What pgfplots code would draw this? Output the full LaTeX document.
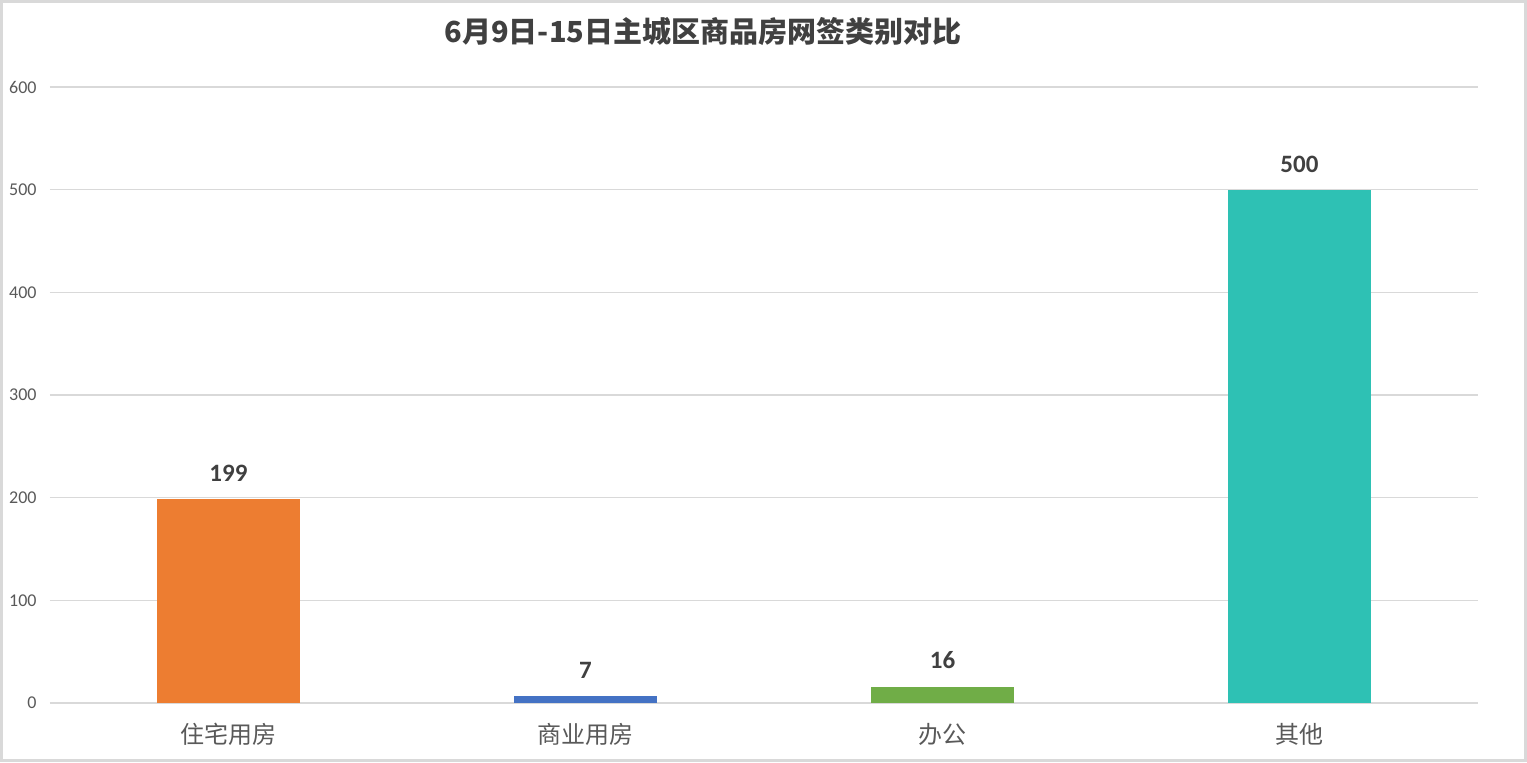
\documentclass[border=0pt]{standalone}
\usepackage{fontspec}
\setmainfont{Carlito}
\newfontfamily\cjk{Noto Sans CJK SC}
\usepackage{pgfplots}
\pgfplotsset{compat=1.18}
\definecolor{cOrange}{HTML}{ED7D31}
\definecolor{cBlue}{HTML}{4472C4}
\definecolor{cGreen}{HTML}{70AD47}
\definecolor{cTeal}{HTML}{2EC1B4}
\definecolor{gridgray}{HTML}{D9D9D9}
\definecolor{framegray}{HTML}{D9D9D9}
\definecolor{ticktext}{HTML}{595959}
\definecolor{valtext}{HTML}{404040}
\begin{document}
\begin{tikzpicture}
\useasboundingbox (0,0) rectangle (763.5pt,381pt);
\draw[framegray, line width=1.5pt] (0.75pt,0.75pt) rectangle (762.75pt,380.25pt);
\node[font=\cjk\bfseries\fontsize{14.5pt}{14.5pt}\selectfont, text=valtext] at (351.5pt,365pt) {6月9日-15日主城区商品房网签类别对比};
\begin{axis}[
  at={(25pt,29.5pt)}, anchor=south west,
  width=714pt, height=308pt, scale only axis,
  xmin=-0.5, xmax=3.5, ymin=0, ymax=600,
  ytick={0,100,...,600},
  xtick={0,1,2,3},
  xticklabels={住宅用房,商业用房,办公,其他},
  /pgf/number format/assume math mode=true,
  ymajorgrids, grid style={gridgray, line width=0.7pt},
  axis line style={draw=none},
  major tick length=0pt,
  tick style={draw=none},
  yticklabel style={font=\fontsize{9pt}{9pt}\selectfont, text=ticktext, inner sep=0pt, xshift=-6.5pt},
  xticklabel style={font=\cjk\fontsize{12pt}{12pt}\selectfont, text=ticktext, inner sep=0pt, yshift=-10pt},
  nodes near coords,
  every node near coord/.append style={font=\bfseries\fontsize{12.5pt}{12.5pt}\selectfont, text=valtext, anchor=base, yshift=8.8pt, inner sep=0pt},
]
\addplot[ybar, bar width=71.5pt, bar shift=0pt, fill=cOrange, draw=none] coordinates {(0,199)};
\addplot[ybar, bar width=71.5pt, bar shift=0pt, fill=cBlue, draw=none] coordinates {(1,7)};
\addplot[ybar, bar width=71.5pt, bar shift=0pt, fill=cGreen, draw=none] coordinates {(2,16)};
\addplot[ybar, bar width=71.5pt, bar shift=0pt, fill=cTeal, draw=none] coordinates {(3,500)};
\end{axis}
\end{tikzpicture}
\end{document}
